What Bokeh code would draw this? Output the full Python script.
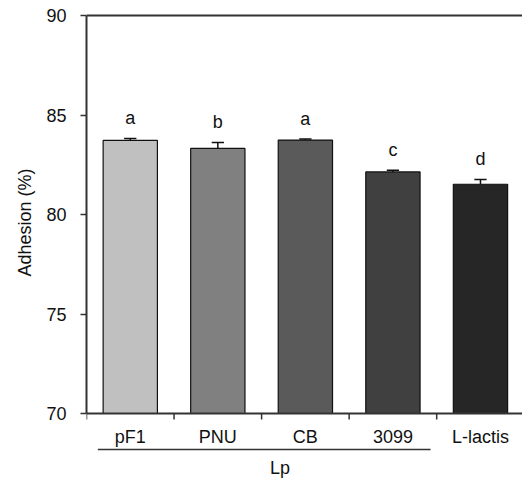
from bokeh.plotting import figure
from bokeh.models import Range1d, LinearAxis, FixedTicker, Title
from bokeh.core.properties import value
from bokeh.embed import file_html
from bokeh.resources import INLINE

# ---- data ----
categories = ["pF1", "PNU", "CB", "3099", "L-lactis"]
adhesion = [83.72, 83.32, 83.74, 82.14, 81.52]
errors = [0.10, 0.30, 0.05, 0.08, 0.24]
letters = ["a", "b", "a", "c", "d"]
bar_colors = ["#c0c0c0", "#808080", "#5a5a5a", "#404040", "#262626"]
y_ticks = [70, 75, 80, 85, 90]
y_title = "Adhesion (%)"
group_label = "Lp"
group_span = (0.13, 3.93)   # Lp group line extent in category units

FONT = "Liberation Sans"
AXC = "#333333"
TXT = "#111111"
y_base, y_top = 70, 90
PXU = 19.9  # pixels per data unit (style constant)

p = figure(width=522, height=478, output_backend="svg", toolbar_location=None,
           x_range=Range1d(0, 4.98), y_range=Range1d(70 - 65 / PXU, 70 + 413 / PXU),
           min_border_left=86, min_border_right=0, min_border_top=0, min_border_bottom=0,
           outline_line_color=None, background_fill_color="white", border_fill_color="white")
p.xaxis.visible = False
p.yaxis.visible = False
p.xgrid.visible = False
p.ygrid.visible = False

yax = LinearAxis(ticker=FixedTicker(ticks=y_ticks), bounds=(y_base, y_top))
yax.axis_line_color = AXC
yax.axis_line_width = 2
yax.major_tick_line_color = AXC
yax.major_tick_line_width = 1.5
yax.major_tick_out = 6
yax.major_tick_in = 0
yax.minor_tick_line_color = None
yax.major_label_text_font = FONT
yax.major_label_text_font_size = "18px"
yax.major_label_text_color = TXT
yax.major_label_standoff = 14
p.add_layout(yax, "left")

# y-axis title, positioned along the 70-90 span
ytitle = Title(text=y_title, align="left", offset=202, standoff=18,
               text_font=FONT, text_font_size="18px", text_font_style="normal",
               text_color=TXT)
p.add_layout(ytitle, "left")

n = len(categories)
xs = [i + 0.5 for i in range(n)]

# bars
p.vbar(x=xs, top=adhesion, bottom=y_base, width=0.62, fill_color=bar_colors,
       line_color=TXT, line_width=1.2)

# error bars (upper only)
tops = [a + e for a, e in zip(adhesion, errors)]
p.segment(x0=xs, y0=adhesion, x1=xs, y1=tops, line_color=TXT, line_width=1.5)
p.segment(x0=[x - 0.07 for x in xs], y0=tops, x1=[x + 0.07 for x in xs], y1=tops,
          line_color=TXT, line_width=1.5)

# significance letters
p.text(x=xs, y=tops, text=letters, text_align="center", text_baseline="alphabetic",
       y_offset=-20, text_font=value(FONT), text_font_size="18px", text_color=TXT)

# x axis line and top line
p.segment(x0=[0, 0], y0=[y_base, y_top], x1=[4.98, 4.98], y1=[y_base, y_top],
          line_color=AXC, line_width=2)
# x ticks at category boundaries
bounds = list(range(n + 1))
p.ray(x=bounds, y=[y_base] * len(bounds), length=6, length_units="screen",
      angle=-1.5708, line_color=AXC, line_width=1.5)

# category labels
p.text(x=xs, y=[y_base] * n, text=categories, text_align="center", text_baseline="middle",
       y_offset=23, text_font=value(FONT), text_font_size="18px", text_color=TXT)

# group line and label
gy = y_base - 36 / PXU
p.segment(x0=[group_span[0]], y0=[gy], x1=[group_span[1]], y1=[gy],
          line_color=AXC, line_width=1.5)
p.text(x=[(group_span[0] + group_span[1]) / 2 + 0.18], y=[y_base - 54 / PXU], text=[group_label],
       text_align="center", text_baseline="middle", text_font=value(FONT),
       text_font_size="18px", text_color=TXT)

open("out.html", "w").write(file_html(p, INLINE))
